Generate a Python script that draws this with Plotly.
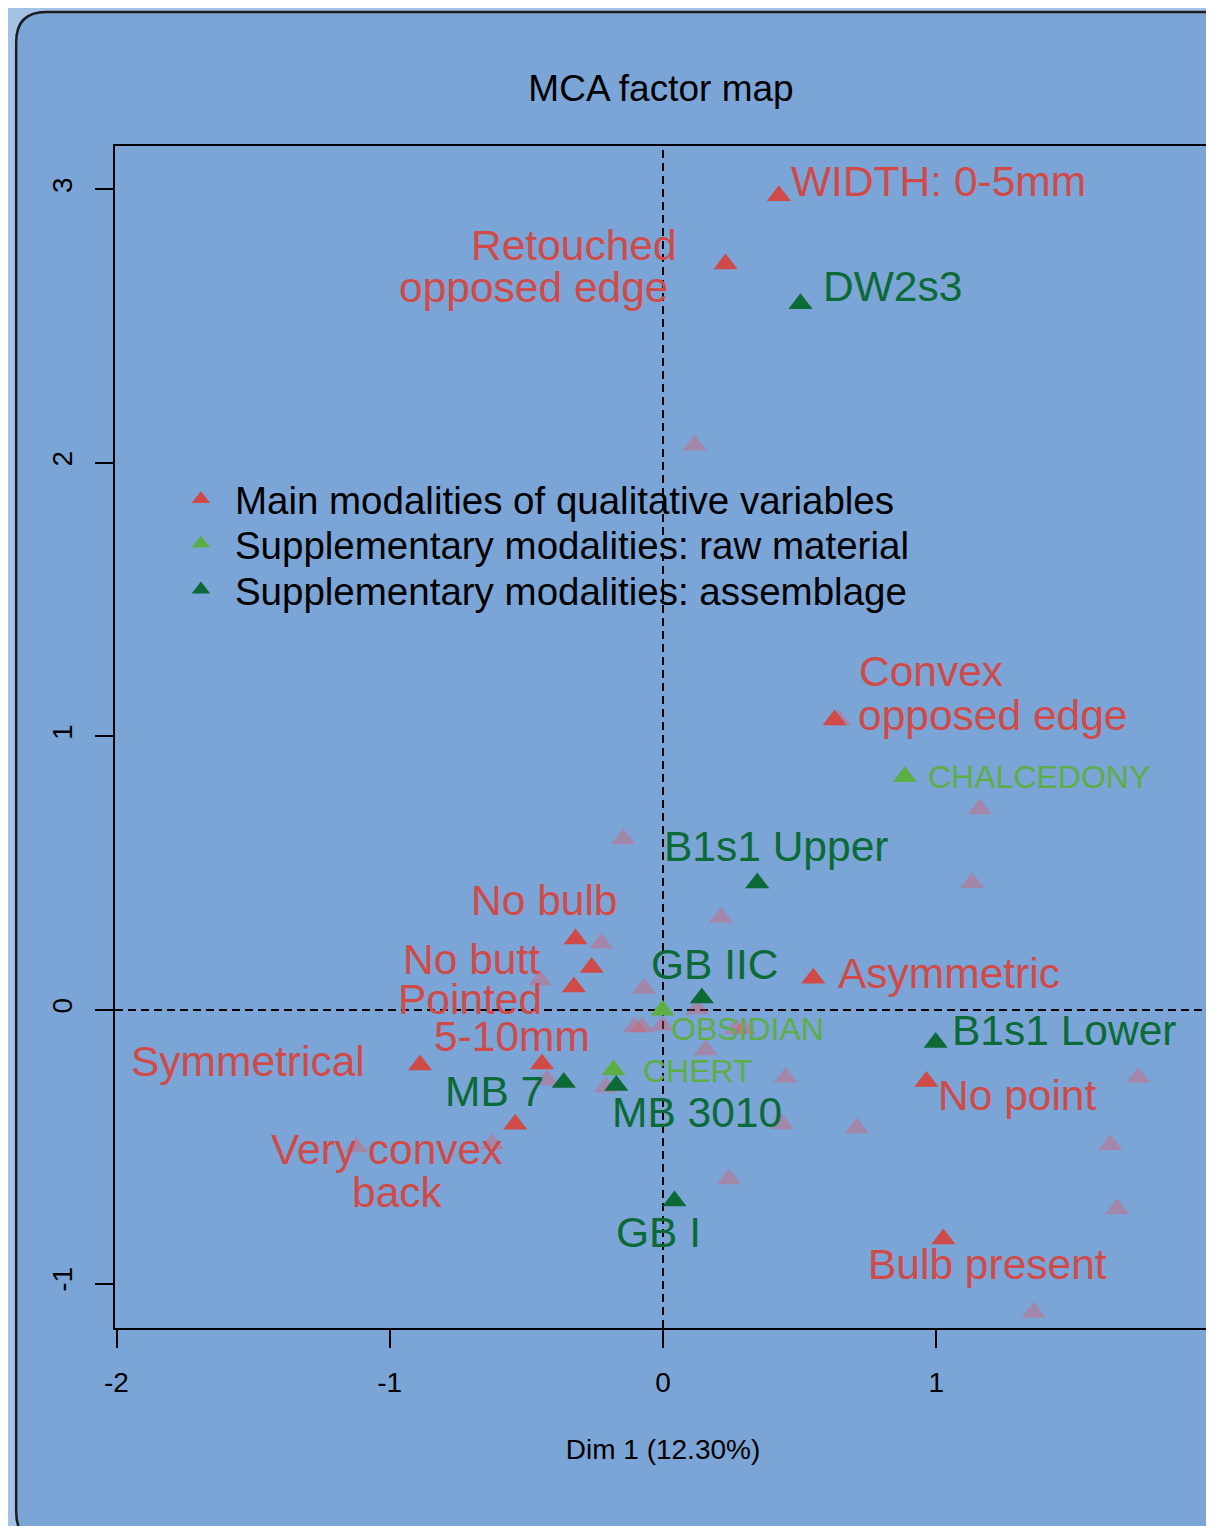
import plotly.graph_objects as go

# ------------------------------------------------------------------ data
# Main (active) modalities that carry a label
main_names = ["WIDTH: 0-5mm", "Retouched\nopposed edge", "Convex\nopposed edge",
              "No bulb", "No butt", "Pointed", "5-10mm", "Symmetrical",
              "Very convex\nback", "Asymmetric", "No point", "Bulb present"]
main_x = [0.424, 0.229, 0.628, -0.320, -0.261, -0.326, -0.443, -0.889,
          -0.541, 0.550, 0.964, 1.026]
main_y = [2.977, 2.728, 1.060, 0.260, 0.155, 0.084, -0.197, -0.201,
          -0.418, 0.116, -0.261, -0.837]

# Other (unselected, transparent) active modalities
other_x = [0.115, -0.146, 1.159, 1.131, 0.212, -0.226, -0.449, -0.069, 0.126,
           -0.104, -0.077, -0.002, 0.268, 0.296, 0.156, 0.449, 0.435, 0.709,
           0.241, -0.209, -0.425, -0.625, -1.123, 1.739, 1.637, 1.662, 1.357,
           0.643]
other_y = [2.065, 0.625, 0.735, 0.465, 0.338, 0.244, 0.110, 0.079, 0.003,
           -0.062, -0.062, -0.057, -0.069, -0.069, -0.146, -0.247, -0.417,
           -0.431, -0.618, -0.282, -0.256, -0.490, -0.501, -0.247, -0.493,
           -0.728, -1.106, 1.060]

# Supplementary modalities: raw material
raw_names = ["CHALCEDONY", "OBSIDIAN", "CHERT"]
raw_x = [0.885, -0.002, -0.181]
raw_y = [0.853, -0.001, -0.219]

# Supplementary modalities: assemblage
asm_names = ["DW2s3", "B1s1 Upper", "GB IIC", "B1s1 Lower", "MB 3010", "MB 7", "GB I"]
asm_x = [0.503, 0.345, 0.142, 0.998, -0.171, -0.363, 0.042]
asm_y = [2.582, 0.464, 0.044, -0.119, -0.276, -0.265, -0.698]

legend_names = ["Main modalities of qualitative variables",
                "Supplementary modalities: raw material",
                "Supplementary modalities: assemblage"]

x_tick_vals = [-2, -1, 0, 1, 2]
x_tick_text = ["-2", "-1", "0", "1", "2"]
y_tick_vals = [-1, 0, 1, 2, 3]
y_tick_text = ["-1", "0", "1", "2", "3"]

title_text = "MCA factor map"
x_title = "Dim 1 (12.30%)"

# ------------------------------------------------------------------ style
RED = "#D04A48"
FAINT = "rgba(235,80,85,0.35)"
LGREEN = "#5CAE45"
DGREEN = "#0B6A35"
BG_IN = "#7BA5D7"
BG_OUT = "#A4C2E8"
FONT = "Liberation Sans, Arial, Helvetica, sans-serif"

OFF = 8                       # page body margin
W, H = 1214 - OFF, 1526 - OFF
# plot area in page pixels
PAGE_L, PAGE_R, PAGE_T, PAGE_B = 115, 1213, 146, 1328
PL, PR, PT, PB = PAGE_L - OFF, PAGE_R - OFF, PAGE_T - OFF, PAGE_B - OFF
XR = [-2.0055, 2.0055]
YR = [-1.1627, 3.159]
MSIZE = 21

# label placement: (anchor, xshift px, yshift px) per label line
LABEL_POS = {
    ("WIDTH: 0-5mm", 0): ("left", 10, 14),
    ("Retouched\nopposed edge", 0): ("right", -47, 18),
    ("Retouched\nopposed edge", 1): ("right", -56, -24),
    ("Convex\nopposed edge", 0): ("left", 22, 49),
    ("Convex\nopposed edge", 1): ("left", 21, 5),
    ("No bulb", 0): ("center", -31, 38),
    ("No butt", 0): ("right", -50, 8),
    ("Pointed", 0): ("right", -30, -12),
    ("5-10mm", 0): ("center", -30, 27),
    ("Symmetrical", 0): ("right", -53, 3),
    ("Very convex\nback", 0): ("center", -128, -25),
    ("Very convex\nback", 1): ("center", -118, -68),
    ("Asymmetric", 0): ("left", 23, 5),
    ("No point", 0): ("left", 10, -14),
    ("Bulb present", 0): ("center", 44, -26),
    ("CHALCEDONY", 0): ("left", 21, 0),
    ("OBSIDIAN", 0): ("left", 7, -19),
    ("CHERT", 0): ("left", 27, -1),
    ("DW2s3", 0): ("left", 21, 17),
    ("B1s1 Upper", 0): ("center", 19, 37),
    ("GB IIC", 0): ("center", 13, 33),
    ("B1s1 Lower", 0): ("left", 14, 12),
    ("MB 3010", 0): ("center", 81, -27),
    ("MB 7", 0): ("right", -18, -9),
    ("GB I", 0): ("center", -16, -32),
}


def pxx(page_px):
    return (page_px - OFF - PL) / (PR - PL)


def pxy(page_py):
    return (PB - (page_py - OFF)) / (PB - PT)


fig = go.Figure()

# transparent (unselected) modalities
fig.add_trace(go.Scatter(
    x=other_x, y=other_y, mode="markers", showlegend=False, hoverinfo="skip",
    marker=dict(symbol="triangle-up", size=MSIZE, color=FAINT, line=dict(width=0)),
))
fig.add_trace(go.Scatter(
    x=main_x, y=main_y, mode="markers", name=legend_names[0], legend="legend",
    text=[n.replace("\n", " ") for n in main_names],
    marker=dict(symbol="triangle-up", size=MSIZE, color=RED, line=dict(width=0)),
))
fig.add_trace(go.Scatter(
    x=raw_x, y=raw_y, mode="markers", name=legend_names[1], legend="legend2",
    text=raw_names,
    marker=dict(symbol="triangle-up", size=MSIZE, color=LGREEN, line=dict(width=0)),
))
fig.add_trace(go.Scatter(
    x=asm_x, y=asm_y, mode="markers", name=legend_names[2], legend="legend3",
    text=asm_names,
    marker=dict(symbol="triangle-up", size=MSIZE, color=DGREEN, line=dict(width=0)),
))

# point labels
annotations = []
for names, xs, ys, color, fsize in [
    (main_names, main_x, main_y, RED, 42.5),
    (raw_names, raw_x, raw_y, LGREEN, 32),
    (asm_names, asm_x, asm_y, DGREEN, 42.5),
]:
    for name, x, y in zip(names, xs, ys):
        for i, line in enumerate(name.split("\n")):
            anchor, dx, dy = LABEL_POS[(name, i)]
            annotations.append(dict(
                x=x, y=y, xref="x", yref="y", text=line, showarrow=False,
                xanchor=anchor, yanchor="middle", xshift=dx, yshift=dy,
                font=dict(family=FONT, size=fsize, color=color),
            ))


def legend_box(center_page_py):
    return dict(
        x=pxx(201 - 34), xanchor="left", y=pxy(center_page_py - 33), yanchor="top",
        bgcolor="rgba(0,0,0,0)", borderwidth=0, itemwidth=58,
        font=dict(family=FONT, size=38.5, color="black"),
    )


fig.update_layout(
    width=W, height=H,
    margin=dict(l=PL, r=W - PR, t=PT, b=H - PB, pad=0),
    paper_bgcolor=BG_OUT, plot_bgcolor=BG_IN,
    font=dict(family=FONT, color="black"),
    title=dict(text=title_text, x=pxx(662), xanchor="center", xref="paper",
               y=1 - (88 - OFF) / H, yref="container", yanchor="middle",
               font=dict(family=FONT, size=37, color="black")),
    showlegend=True,
    legend=legend_box(500.5),
    legend2=legend_box(545),
    legend3=legend_box(591),
    annotations=annotations,
    xaxis=dict(range=XR, showgrid=False, zeroline=False, showline=True, mirror=True,
               linecolor="black", linewidth=2.3, ticks="outside", ticklen=18,
               tickwidth=2.3, tickcolor="black", tickvals=x_tick_vals,
               ticktext=x_tick_text, tickfont=dict(family=FONT, size=28, color="black"),
               ticklabelstandoff=10,
               title=dict(text=x_title, font=dict(family=FONT, size=28, color="black"),
                          standoff=43)),
    yaxis=dict(range=YR, showgrid=False, zeroline=False, showline=True, mirror=True,
               linecolor="black", linewidth=2.3, ticks="outside", ticklen=18,
               tickwidth=2.3, tickcolor="black", tickvals=y_tick_vals,
               ticktext=y_tick_text, tickangle=-90,
               tickfont=dict(family=FONT, size=28, color="black"),
               ticklabelstandoff=12),
)

# rounded background panel (decoration), in page pixels
left, top, right, bottom, r = 16, 12, 1260, 1542, 30
path = (f"M {pxx(left)},{pxy(top + r)} Q {pxx(left)},{pxy(top)} {pxx(left + r)},{pxy(top)} "
        f"L {pxx(right - r)},{pxy(top)} Q {pxx(right)},{pxy(top)} {pxx(right)},{pxy(top + r)} "
        f"L {pxx(right)},{pxy(bottom - r)} Q {pxx(right)},{pxy(bottom)} {pxx(right - r)},{pxy(bottom)} "
        f"L {pxx(left + r)},{pxy(bottom)} Q {pxx(left)},{pxy(bottom)} {pxx(left)},{pxy(bottom - r)} Z")
fig.add_shape(type="path", path=path, xref="paper", yref="paper", layer="below",
              fillcolor=BG_IN, line=dict(color="#1E1E1E", width=2.5, dash="solid"))

fig.add_hline(y=0, line=dict(color="black", width=2, dash="8px,5px"), layer="below")
fig.add_vline(x=0, line=dict(color="black", width=2, dash="8px,5px"), layer="below")

fig.write_html("out.html")
